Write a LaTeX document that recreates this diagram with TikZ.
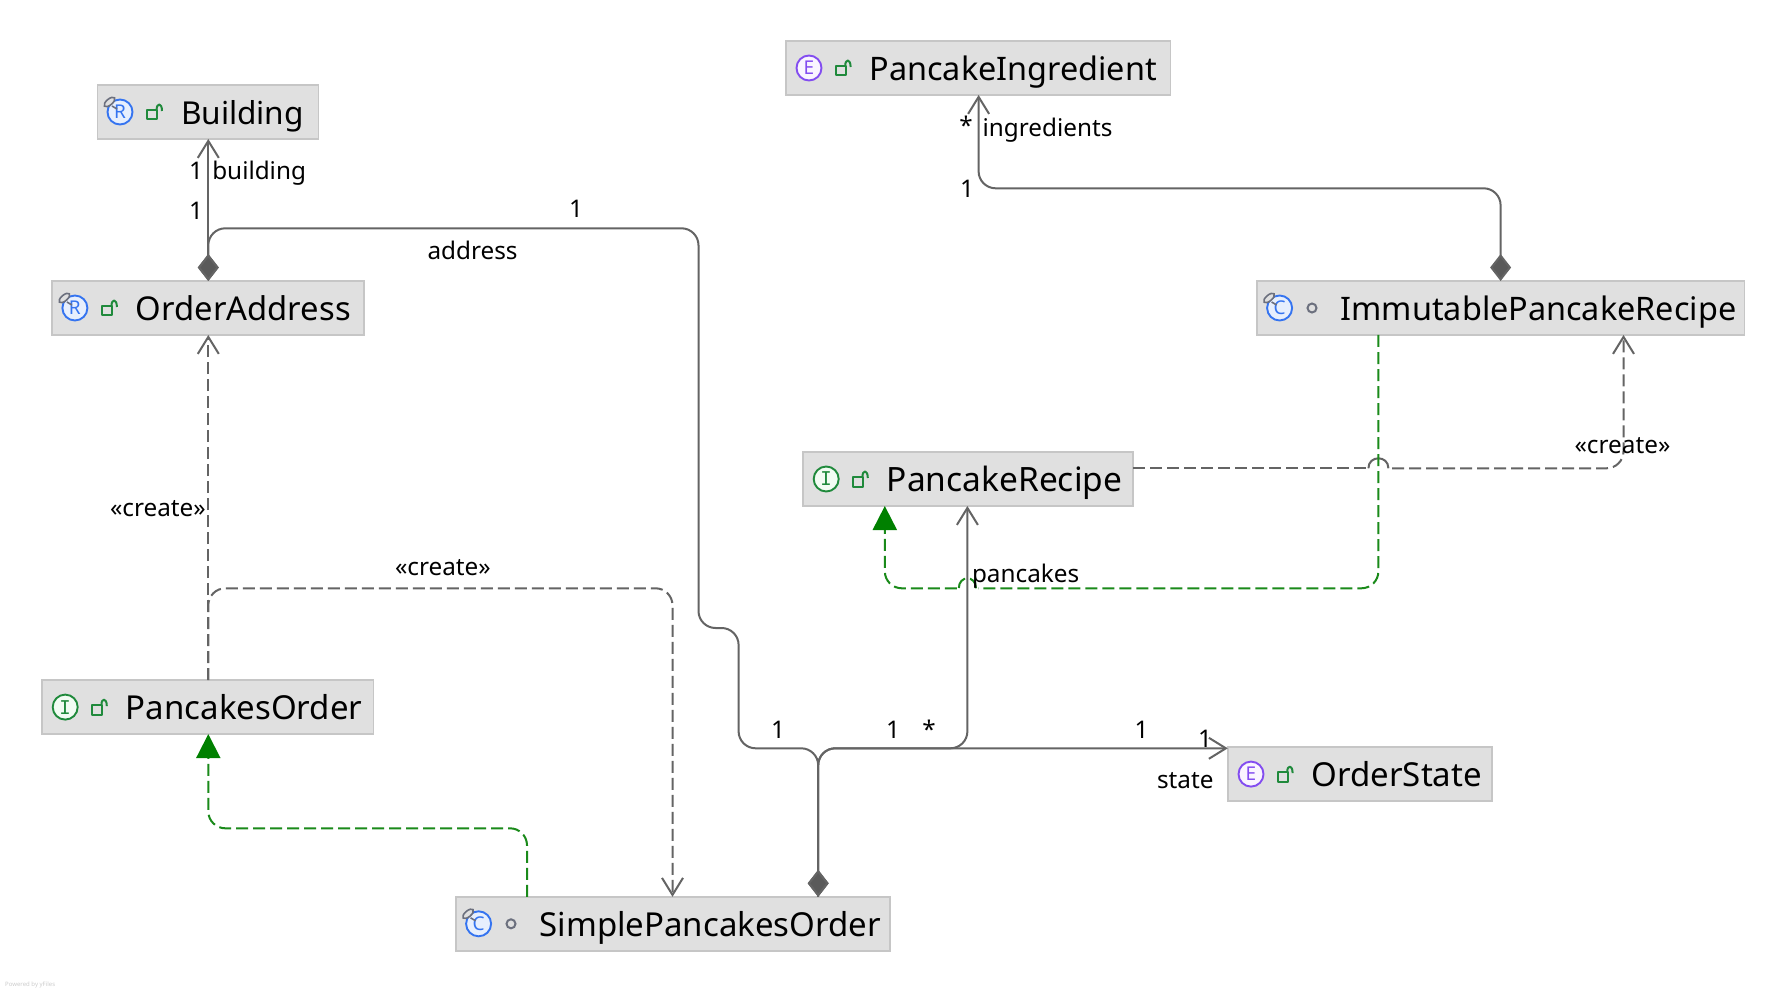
\documentclass[tikz,border=0pt]{standalone}
\usepackage{fontspec}
\setmainfont{Noto Sans}
\newfontfamily\monoicon{DejaVu Sans Mono}
\usetikzlibrary{arrows.meta,shapes.geometric}
\definecolor{boxfill}{HTML}{E0E0E0}
\definecolor{boxline}{HTML}{C6C6C6}
\definecolor{edgegray}{HTML}{646464}
\definecolor{reagreen}{HTML}{1A8A1A}
\definecolor{triggreen}{HTML}{008000}
\definecolor{iconblue}{HTML}{3574F0}
\definecolor{iconbluefill}{HTML}{E7EFFD}
\definecolor{icongreen}{HTML}{208A3C}
\definecolor{icongreenfill}{HTML}{F2FCF3}
\definecolor{iconpurple}{HTML}{834DF0}
\definecolor{iconpurplefill}{HTML}{FAF5FF}
\definecolor{icongray}{HTML}{6C707E}
\tikzset{
  x=1pt,y=-1pt,
  umlbox/.style={draw=boxline,fill=boxfill,line width=1.4pt,anchor=north west,inner sep=0pt,outer sep=0pt,
    minimum height=54pt,text height=39.6pt,text depth=14.4pt,text=black},
  lab/.style={inner sep=0pt,outer sep=0pt,anchor=base west,font=\fontsize{24.3}{28}\selectfont,text=black},
  mult/.style={inner sep=0pt,outer sep=0pt,anchor=center,font=\fontsize{24.3}{28}\selectfont,text=black},
  assoc/.style={draw=edgegray,line width=2pt,rounded corners=17pt,line join=round},
  opentip/.style={-{Straight Barb[length=17pt,width=21pt,line width=2pt]}},
  comptip/.style={{Diamond[length=27pt,width=21pt,fill=edgegray!90!black]}-},
  comparrow/.style={{Diamond[length=27pt,width=21pt,fill=edgegray!90!black]}-{Straight Barb[length=17pt,width=21pt,line width=2pt]}},
  dashes/.style={dash pattern=on 12pt off 5pt},
  dep/.style={assoc,dashes,opentip},
  real/.style={draw=reagreen,line width=2pt,rounded corners=17pt,dashes},
  realtip/.style={-{Triangle[length=24pt,width=24pt,fill=triggreen,color=triggreen,sep=0pt]}},
  kindicon/.style={circle,line width=1.9pt,minimum size=25pt,inner sep=0pt,outer sep=0pt,
    font=\fontsize{19}{19}\selectfont},
  lockline/.style={draw=icongreen,line width=2pt,line join=round},
  vis/.style={circle,draw=icongray,line width=2pt,minimum size=9pt,inner sep=0pt},
  tag/.style={ellipse,draw=icongray,fill=boxfill,line width=1.6pt,rotate=40,minimum width=13pt,minimum height=6pt,inner sep=0pt},
}
\newcommand{\cls}[6]{\node[umlbox,minimum width=#4,font=\fontsize{#6}{38}\selectfont] (#1) at (#2,#3) {\makebox[#4pt][l]{\hspace*{83.8pt}#5}};}
\newcommand{\lockicon}[1]{%
  \draw[lockline] ([shift={(49.7,-1.8)}]#1.west) rectangle ([shift={(59.9,7.5)}]#1.west);
  \draw[lockline] ([shift={(59.4,-2)}]#1.west) .. controls ([shift={(59.4,-9.5)}]#1.west) and ([shift={(64.8,-9.5)}]#1.west) .. ([shift={(64.8,-1)}]#1.west);}
\newcommand{\packicon}[1]{\node[vis] (#1-vis) at ([xshift=55.2pt]#1.west) {};}
\newcommand{\rbicon}[2]{%
  \node[kindicon,draw=iconblue,fill=iconbluefill,text=iconblue] (#1-kind) at ([xshift=22.8pt]#1.west) {#2};
  \draw[icongray,line width=1.6pt] ([shift={(-8,-6)}]#1-kind.center) -- ([shift={(-3,-3)}]#1-kind.center);
  \node[tag] (#1-tag) at ([shift={(-10.5,-10)}]#1-kind.center) {};}
\newcommand{\enumicon}[1]{\node[kindicon,draw=iconpurple,fill=iconpurplefill,text=iconpurple] (#1-kind) at ([xshift=23.2pt]#1.west) {E};}
\newcommand{\ifaceicon}[1]{\node[kindicon,draw=icongreen,fill=icongreenfill,text=icongreen,font=\monoicon\fontsize{19}{19}\selectfont] (#1-kind) at ([xshift=23.2pt]#1.west) {I};}
\begin{document}
\begin{tikzpicture}
\path[fill=white,use as bounding box] (0,0) rectangle (1786,992);

% classes
\cls{building}{97.2}{85}{221.4}{Building}{31.6}
\cls{address}{52.1}{281}{311.8}{OrderAddress}{32.8}
\cls{ingredient}{785.8}{41}{384.4}{PancakeIngredient}{32.4}
\cls{immutable}{1256.8}{281}{487.4}{ImmutablePancakeRecipe}{32.4}
\cls{recipe}{803}{452}{330}{PancakeRecipe}{33.5}
\cls{state}{1227.8}{747.1}{264}{OrderState}{33}
\cls{porder}{42}{680.1}{331.6}{PancakesOrder}{33}
\cls{simple}{455.8}{896.8}{434}{SimplePancakesOrder}{33}

% icons
\rbicon{building}{R}\lockicon{building}
\rbicon{address}{R}\lockicon{address}
\enumicon{ingredient}\lockicon{ingredient}
\rbicon{immutable}{C}\packicon{immutable}
\ifaceicon{recipe}\lockicon{recipe}
\enumicon{state}\lockicon{state}
\ifaceicon{porder}\lockicon{porder}
\rbicon{simple}{C}\packicon{simple}

% anchor columns on the connectors
\coordinate (xa) at (208.3,0);
\coordinate (xb) at (978.6,0);
\coordinate (xc) at (1500.6,0);
\coordinate (xd) at (818.2,0);
\coordinate (xe) at (967.4,0);

% compositions
\draw[assoc,comparrow] (address.north -| xa) -- (building.south -| xa);
\draw[assoc,comptip] (address.north -| xa) -- (208.3,228.3) -- (698.5,228.3) -- (698.5,628) -- (738.6,628) -- (738.6,748.3) -- (818.2,748.3) -- (simple.north -| xd);
\draw[assoc,comparrow] (immutable.north -| xc) -- (1500.6,188.3) -- (978.6,188.3) -- (ingredient.south -| xb);
\draw[assoc,comparrow] (simple.north -| xd) -- (818.2,748.3) -- (967.4,748.3) -- (recipe.south -| xe);
\draw[assoc,comparrow] (simple.north -| xd) -- (818.2,748.3) -- (state.west |- 0,748.3);

% create dependencies
\draw[dep] (porder.north -| xa) -- (address.south -| xa);
\draw[dep] (porder.north -| xa) -- (208.3,588.3) -- (672.5,588.3) -- (simple.north -| 672.5,0);
\draw[assoc,dashes] (recipe.east |- 0,468.3) -- (1366.4,468.3);
\draw[assoc] (1368.4,468.3) .. controls (1368.4,455) and (1388.4,455) .. (1388.4,468.3);
\draw[dep] (1392,468.3) -- (1623.5,468.3) -- (immutable.south -| 1623.5,0);

% realizations
\draw[real,realtip] (simple.north -| 527,0) -- (527,828.3) -- (208.3,828.3) -- (porder.south -| xa);
\draw[real] (immutable.south -| 1378.4,0) -- (1378.4,588.3) -- (978,588.3);
\draw[real] (976,588.3) .. controls (976,575) and (958.8,575) .. (958.8,588.3);
\draw[real,realtip] (956.8,588.3) -- (884.8,588.3) -- (recipe.south -| 884.8,0);

% labels
\node[mult] (m1) at (196,171) {1};
\node[lab] (l1) at (212.3,179.5) {building};
\node[mult] (m2) at (196,211) {1};
\node[mult] (m3) at (576,209) {1};
\node[lab] (l2) at (427.5,259.5) {address};
\node[mult] (m4) at (966,125) {*};
\node[lab] (l3) at (982.6,137) {ingredients};
\node[mult] (m5) at (967,189) {1};
\node[lab] (l4) at (1574.6,453.8) {«create»};
\node[lab] (l5) at (972,582) {pancakes};
\node[mult] (m6) at (778,730) {1};
\node[mult] (m7) at (893,730) {1};
\node[mult] (m8) at (929,729) {*};
\node[mult] (m9) at (1141.5,730) {1};
\node[lab] (l6) at (1157,788.8) {state};
\node[mult] (m10) at (1205,739) {1};
\node[lab] (l7) at (395,575.5) {«create»};
\node[lab] (l8) at (110,516) {«create»};
\node[inner sep=0pt,anchor=base west,font=\fontsize{6}{6}\selectfont,text=black!20] (yf) at (5,986) {Powered by yFiles};
\end{tikzpicture}
\end{document}
